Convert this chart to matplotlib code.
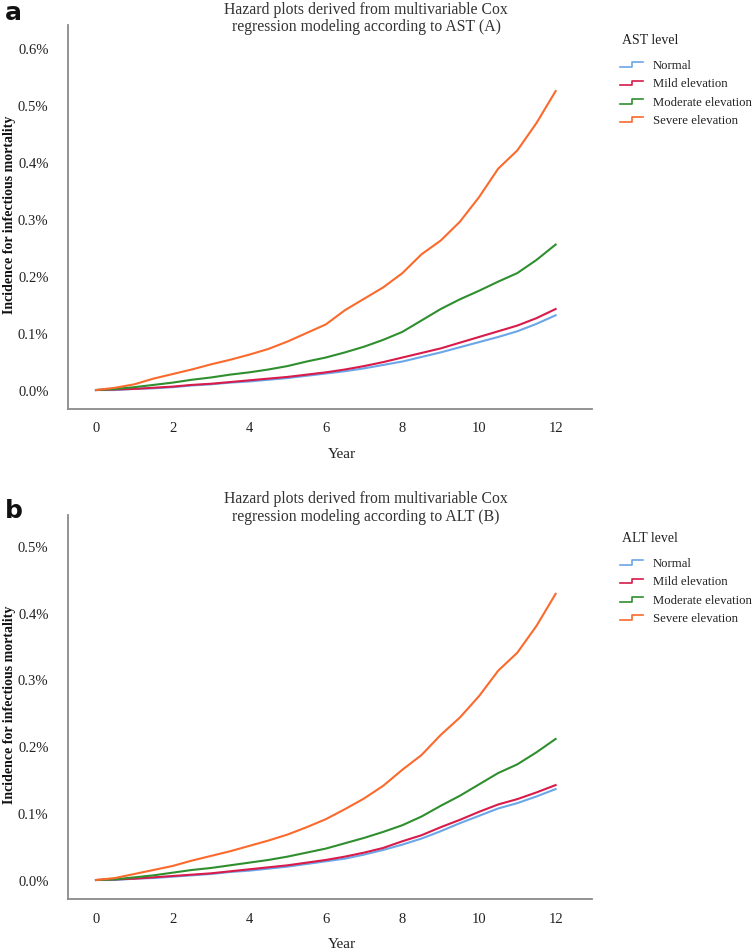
import matplotlib
matplotlib.use("Agg")
import matplotlib.pyplot as plt
from matplotlib.lines import Line2D
from matplotlib.legend_handler import HandlerLine2D
from matplotlib.ticker import FuncFormatter

plt.rcParams['font.family'] = ['Liberation Serif', 'DejaVu Serif']

years = [0, 0.5, 1, 1.5, 2, 2.5, 3, 3.5, 4, 4.5, 5, 5.5, 6, 6.5, 7, 7.5, 8, 8.5, 9, 9.5, 10, 10.5, 11, 11.5, 12]
levels = ['Normal', 'Mild elevation', 'Moderate elevation', 'Severe elevation']

# incidence in %
ast_normal = [0, 0.000, 0.002, 0.003, 0.005, 0.008, 0.010, 0.013, 0.015, 0.018, 0.021, 0.025, 0.029,
              0.033, 0.038, 0.044, 0.050, 0.058, 0.066, 0.075, 0.084, 0.093, 0.103, 0.116, 0.131]
ast_mild = [0, 0.001, 0.002, 0.004, 0.006, 0.009, 0.011, 0.014, 0.017, 0.020, 0.023, 0.027, 0.031,
            0.036, 0.042, 0.049, 0.057, 0.065, 0.073, 0.083, 0.093, 0.103, 0.113, 0.126, 0.142]
ast_moderate = [0, 0.002, 0.005, 0.009, 0.013, 0.018, 0.022, 0.027, 0.031, 0.036, 0.042, 0.050, 0.057,
                0.066, 0.076, 0.088, 0.102, 0.122, 0.142, 0.159, 0.174, 0.190, 0.205, 0.228, 0.255]
ast_severe = [0, 0.004, 0.010, 0.020, 0.028, 0.036, 0.045, 0.053, 0.062, 0.072, 0.085, 0.100, 0.115,
              0.140, 0.160, 0.180, 0.205, 0.238, 0.262, 0.295, 0.338, 0.388, 0.420, 0.468, 0.524]

alt_normal = [0, 0.000, 0.002, 0.003, 0.005, 0.007, 0.009, 0.012, 0.014, 0.017, 0.020, 0.024, 0.028,
              0.032, 0.038, 0.045, 0.053, 0.062, 0.073, 0.085, 0.096, 0.107, 0.115, 0.125, 0.136]
alt_mild = [0, 0.001, 0.002, 0.004, 0.006, 0.008, 0.010, 0.013, 0.016, 0.019, 0.022, 0.026, 0.030,
            0.035, 0.041, 0.048, 0.058, 0.067, 0.079, 0.090, 0.102, 0.113, 0.121, 0.131, 0.142]
alt_moderate = [0, 0.001, 0.004, 0.007, 0.011, 0.015, 0.018, 0.022, 0.026, 0.030, 0.035, 0.041, 0.047,
                0.055, 0.063, 0.072, 0.082, 0.095, 0.111, 0.126, 0.143, 0.160, 0.173, 0.191, 0.211]
alt_severe = [0, 0.003, 0.009, 0.015, 0.021, 0.029, 0.036, 0.043, 0.051, 0.059, 0.068, 0.079, 0.091,
              0.106, 0.122, 0.141, 0.165, 0.187, 0.217, 0.243, 0.275, 0.313, 0.340, 0.380, 0.428]

colors = ['#6aa6e8', '#d81b4a', '#2f8f2f', '#fb6a2c']


class StepHandler(HandlerLine2D):
    # little step glyph like the legend of the original
    def create_artists(self, legend, orig_handle, xdescent, ydescent, width, height, fontsize, trans):
        x0 = -xdescent
        xs = [x0, x0 + width * 0.5, x0 + width * 0.5, x0 + width]
        ys = [height * 0.1, height * 0.1, height * 0.65, height * 0.65]
        ln = Line2D(xs, ys, color=orig_handle.get_color(), lw=1.2)
        ln.set_transform(trans)
        return [ln]


H = 953.0
fig = plt.figure(figsize=(7.55, 9.53), dpi=100)

# bottom, series, ylim, top tick, enzyme, tag, letter, title y(px), letter y(px), legend title y(px)
panels = [
    (0.5698, [ast_normal, ast_mild, ast_moderate, ast_severe], (-0.0332, 0.640), 0.6, 'AST', 'A', 'a', 18.5, 13, 41),
    (0.0556, [alt_normal, alt_mild, alt_moderate, alt_severe], (-0.0284, 0.546), 0.5, 'ALT', 'B', 'b', 508, 511, 539),
]

for bottom, series, ylim, ymax_tick, enz, tag, letter, ty, ly, lt in panels:
    ax = fig.add_axes([0.0901, bottom, 0.694, 0.403])
    for vals, c, lab in zip(series, colors, levels):
        ax.plot(years, vals, color=c, lw=1.5, label=lab)
    ax.set_xlim(-0.73, 12.95)
    ax.set_ylim(*ylim)
    ax.set_xticks(range(0, 13, 2))
    n = int(round(ymax_tick * 10))
    ax.set_yticks([i / 10 for i in range(n + 1)])
    ax.yaxis.set_major_formatter(FuncFormatter(lambda v, p: '%.1f%%' % v))
    for s in ['top', 'right']:
        ax.spines[s].set_visible(False)
    for s in ['left', 'bottom']:
        ax.spines[s].set_color('#8a8a8a')
        ax.spines[s].set_linewidth(1.3)
    ax.tick_params(length=0, labelsize=10.5, colors='#222222')
    ax.tick_params(axis='y', pad=14)
    ax.tick_params(axis='x', pad=9)
    ax.set_xlabel('Year', fontsize=11, color='#222222')
    ax.xaxis.set_label_coords(0.523, -0.10)
    ax.set_ylabel('Incidence for infectious mortality', fontsize=10, fontweight='bold', color='#111111')
    ax.yaxis.set_label_coords(-0.100, 0.508)

    fig.text(366 / 755, 1 - ty / H,
             'Hazard plots derived from multivariable Cox\nregression modeling according to %s (%s)' % (enz, tag),
             ha='center', va='center', fontsize=11.3, color='#333333', linespacing=1.1)
    fig.text(0.006, 1 - ly / H, letter, family='DejaVu Sans', fontweight='bold', fontsize=18,
             ha='left', va='center', color='#111111')

    fig.text(622 / 755, 1 - lt / H, '%s level' % enz, ha='left', va='center', fontsize=10, color='#222222')
    leg = ax.legend(loc='upper left', bbox_to_anchor=(620 / 755, 1 - (lt + 19) / H),
                    bbox_transform=fig.transFigure, frameon=False, fontsize=9.2,
                    borderpad=0, borderaxespad=0,
                    handlelength=1.8, handletextpad=0.78, labelspacing=0.5,
                    handler_map={Line2D: StepHandler()})
    for t in leg.get_texts():
        t.set_color('#222222')

fig.savefig('out.png', dpi=100)
